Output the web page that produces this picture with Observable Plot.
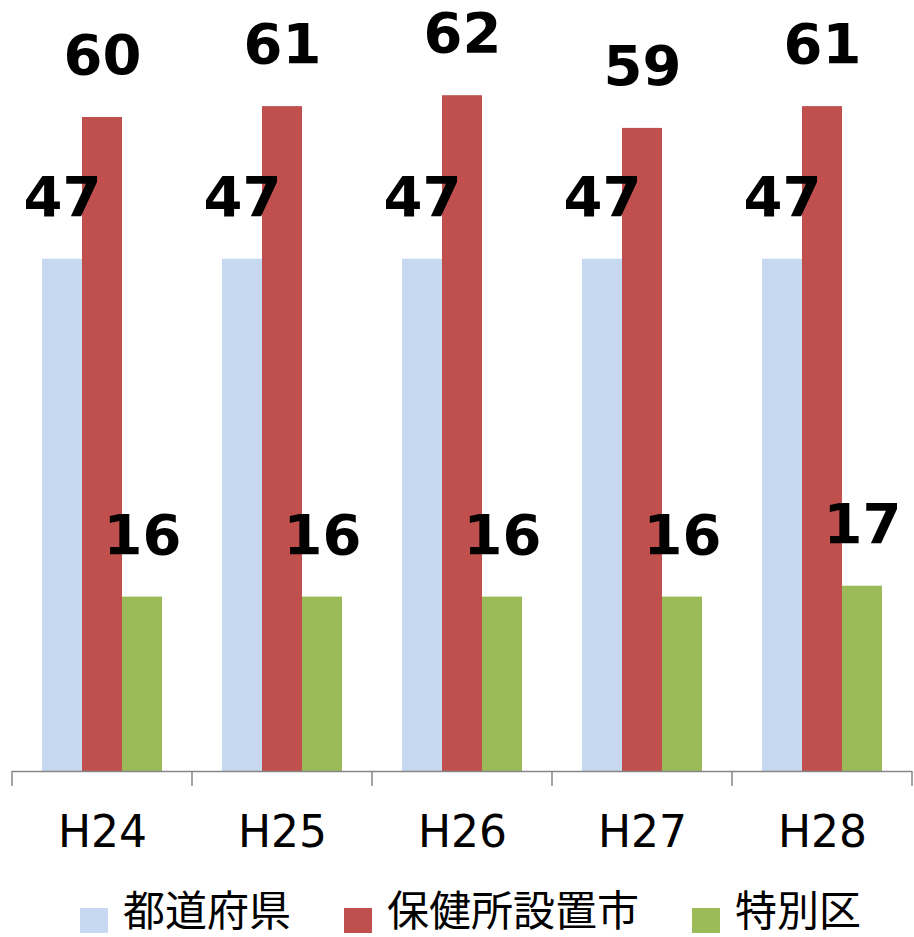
<!DOCTYPE html>
<html>
<head>
<meta charset="utf-8">
<script src="https://cdn.jsdelivr.net/npm/d3@7"></script>
<script src="https://cdn.jsdelivr.net/npm/@observablehq/plot@0.6"></script>
<style>
  html, body { margin: 0; padding: 0; background: #ffffff; overflow: hidden; }
  #chart svg { display: block; }
  .legend {
    display: flex; align-items: center;
    margin-top: 21px; padding-left: 80px;
    font-family: "DejaVu Sans", "Noto Sans CJK JP", "Noto Sans CJK SC", sans-serif;
    font-size: 42px; line-height: 42px; height: 42px; color: #000;
  }
  .legend .item { display: flex; align-items: center; margin-right: 53px; }
  .legend .sw { width: 28px; height: 28px; margin-right: 15px; position: relative; top: 10px; }
</style>
</head>
<body>
<div id="chart"></div>
<div class="legend" id="legend"></div>
<script>
const years = ["H24", "H25", "H26", "H27", "H28"];
const series = ["都道府県", "保健所設置市", "特別区"];
const prefectures = [47, 47, 47, 47, 47];
const cities = [60, 61, 62, 59, 61];
const wards = [16, 16, 16, 16, 17];
const colors = ["#C6D9F1", "#C0504D", "#9BBB59"];

const values = [prefectures, cities, wards];
const data = years.flatMap((y, i) => series.map((s, j) => ({year: y, series: s, value: values[j][i]})));

const plot = Plot.plot({
  width: 914,
  height: 870,
  marginTop: 8,
  marginLeft: 11,
  marginRight: 2,
  marginBottom: 99,
  style: {fontFamily: "DejaVu Sans", background: "#ffffff", color: "#000"},
  fx: {domain: years, padding: 0, label: null},
  x: {domain: series, paddingInner: 0, paddingOuter: 0.75, axis: null},
  y: {domain: [0, 70], axis: null},
  color: {domain: series, range: colors},
  marks: [
    Plot.barY(data, {fx: "year", x: "series", y: "value", fill: "series"}),
    Plot.text(data, {fx: "year", x: "series", y: "value", text: d => String(d.value),
      lineAnchor: "bottom", dy: -43.5, fontSize: 56, fontWeight: "bold", fill: "#000"}),
    Plot.ruleY([0], {stroke: "#868686", strokeWidth: 1.5}),
    Plot.axisFx({anchor: "bottom", tickSize: 0, tickPadding: 44, fontSize: 44, label: null})
  ]
});
document.getElementById("chart").appendChild(plot);

// category boundary ticks on the baseline, from the fx scale
const fx = plot.scale("fx");
const yScale = plot.scale("y");
const y0 = yScale.apply(0);
const bounds = years.map(y => fx.apply(y)).concat([fx.apply(years[years.length - 1]) + fx.bandwidth]);
d3.select(plot).append("g")
  .attr("stroke", "#868686").attr("stroke-width", 1.5)
  .selectAll("line").data(bounds).join("line")
  .attr("x1", d => d).attr("x2", d => d)
  .attr("y1", y0).attr("y2", y0 + 15);

const legend = d3.select("#legend");
series.forEach((s, i) => {
  const it = legend.append("div").attr("class", "item");
  it.append("div").attr("class", "sw").style("background", colors[i]);
  it.append("span").text(s);
});
</script>
</body>
</html>
